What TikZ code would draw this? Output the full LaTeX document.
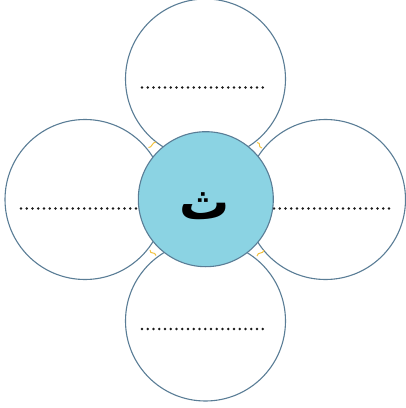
\documentclass[tikz,border=0pt]{standalone}
\usepackage{fontspec}
\newfontfamily\arabicfont[Script=Arabic]{DejaVu Sans}
\TeXXeTstate=1
\definecolor{rim}{HTML}{5A7D96}
\definecolor{core}{HTML}{8BD3E3}
\definecolor{gold}{HTML}{F2C23E}
\tikzset{
  petal/.style={circle, draw=rim, line width=1.1pt, fill=white, minimum size=160pt, inner sep=0pt},
  hub/.style={circle, draw=rim, line width=1.1pt, fill=core, minimum size=135pt, inner sep=0pt},
  dotline/.style={line width=2.6pt, line cap=round, dash pattern=on 0pt off 5.75pt, black!90},
  squig/.style={gold, line width=1pt}
}
\begin{document}
\begin{tikzpicture}[x=1pt,y=-1pt]
\useasboundingbox (0,0) rectangle (406,408);
\node[petal] (top) at (205.5,79) {};
\node[petal] (bottom) at (205.5,321) {};
\node[petal] (left) at (85,199.5) {};
\node[petal] (right) at (325.5,199.5) {};
\coordinate (tl1) at (142,87.5); \coordinate (tl2) at (268,87.5);
\coordinate (bl1) at (142,329); \coordinate (bl2) at (268,329);
\coordinate (ll1) at (21,208.5); \coordinate (ll2) at (137,208.5);
\coordinate (rl1) at (274,208.5); \coordinate (rl2) at (389,208.5);
\draw[dotline] (tl1) -- (tl2);
\draw[dotline] (bl1) -- (bl2);
\draw[dotline] (ll1) -- (ll2);
\draw[dotline] (rl1) -- (rl2);
\coordinate (y1a) at (148.5,147.5); \coordinate (y1b) at (156,142);
\coordinate (y2a) at (257,142.5); \coordinate (y2b) at (262,148);
\coordinate (y3a) at (150,250); \coordinate (y3b) at (156,255.5);
\coordinate (y4a) at (264,250); \coordinate (y4b) at (257,256);
\draw[squig] (y1a) .. controls (152,148) and (152,142) .. (y1b);
\draw[squig] (y2a) .. controls (262,143) and (257,147) .. (y2b);
\draw[squig] (y3a) .. controls (150,255) and (155,251) .. (y3b);
\draw[squig] (y4a) .. controls (263,255) and (258,251) .. (y4b);
\node[hub] (hub) at (205.8,199.2) {};
\node[font=\arabicfont\bfseries\fontsize{50}{56}\selectfont, inner sep=0pt] (letter) at (204.5,206) {\beginR ث\endR};
\end{tikzpicture}
\end{document}
